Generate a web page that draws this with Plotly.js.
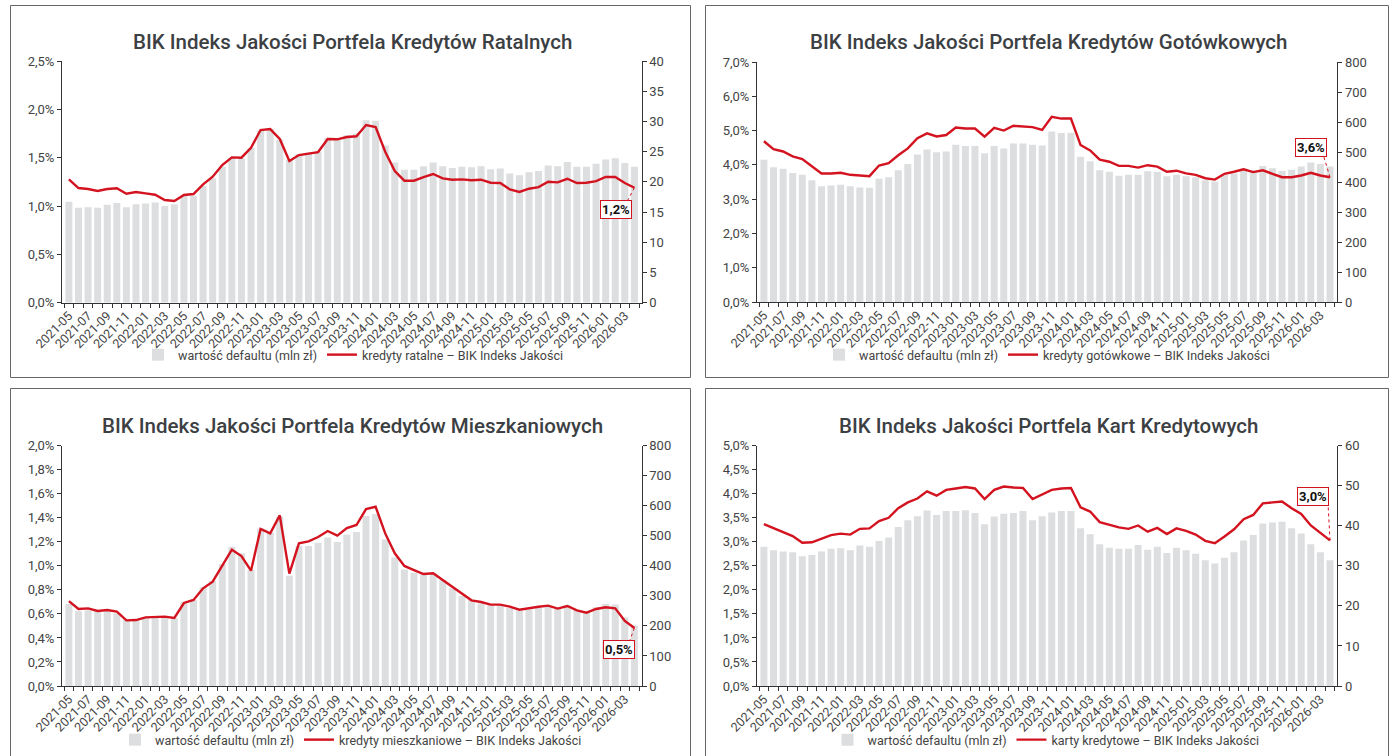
<!DOCTYPE html>
<html>
<head>
<meta charset="utf-8">
<script src="https://cdn.plot.ly/plotly-3.0.1.min.js"></script>
<style>
html,body{margin:0;padding:0;background:#fff;}
#chart{width:1389px;height:756px;}
</style>
</head>
<body>
<div id="chart"></div>
<script>
const months = ["2021-05","2021-06","2021-07","2021-08","2021-09","2021-10","2021-11","2021-12",
"2022-01","2022-02","2022-03","2022-04","2022-05","2022-06","2022-07","2022-08","2022-09","2022-10","2022-11","2022-12",
"2023-01","2023-02","2023-03","2023-04","2023-05","2023-06","2023-07","2023-08","2023-09","2023-10","2023-11","2023-12",
"2024-01","2024-02","2024-03","2024-04","2024-05","2024-06","2024-07","2024-08","2024-09","2024-10","2024-11","2024-12",
"2025-01","2025-02","2025-03","2025-04","2025-05","2025-06","2025-07","2025-08","2025-09","2025-10","2025-11","2025-12",
"2026-01","2026-02","2026-03","2026-04"];
// tick labels: every second month
const tickLabels = months.map((m,i)=> i%2===0 ? m : "");

// Kredyty ratalne
const ratalneIndex = [1.276,1.186,1.176,1.155,1.176,1.183,1.127,1.145,1.131,1.117,1.062,1.052,1.114,1.124,1.224,1.303,1.424,1.503,1.500,1.603,1.786,1.796,1.693,1.465,1.527,1.545,1.558,1.693,1.690,1.714,1.721,1.838,1.817,1.562,1.362,1.262,1.262,1.300,1.331,1.286,1.272,1.276,1.266,1.272,1.241,1.238,1.172,1.145,1.179,1.196,1.251,1.245,1.282,1.238,1.241,1.258,1.300,1.300,1.238,1.189];
const ratalneDefault = [16.7,15.7,15.8,15.7,16.2,16.5,15.8,16.3,16.4,16.6,16.0,16.3,17.7,17.7,19.3,20.6,22.5,23.9,23.9,25.6,28.5,28.8,27.0,23.6,24.6,24.8,25.0,27.3,27.0,27.7,28.0,30.2,30.1,26.0,23.2,22.0,22.0,22.6,23.2,22.6,22.3,22.5,22.4,22.6,22.1,22.2,21.4,21.1,21.6,21.8,22.7,22.6,23.3,22.5,22.5,23.0,23.7,23.9,23.1,22.5];

// Kredyty gotówkowe
const gotowkoweIndex = [4.69,4.46,4.39,4.25,4.17,3.96,3.75,3.75,3.77,3.71,3.68,3.67,3.98,4.05,4.28,4.48,4.78,4.92,4.83,4.87,5.09,5.06,5.06,4.82,5.08,5.00,5.14,5.13,5.10,5.02,5.40,5.35,5.35,4.58,4.42,4.15,4.09,3.97,3.97,3.92,3.99,3.95,3.80,3.83,3.75,3.71,3.61,3.57,3.74,3.80,3.87,3.79,3.84,3.74,3.64,3.64,3.69,3.77,3.69,3.64];
const gotowkoweDefault = [474,449,444,430,424,406,386,388,391,386,382,381,411,416,439,460,492,508,499,502,524,520,520,496,520,512,528,528,524,522,568,563,564,484,469,439,434,421,424,424,436,434,419,424,419,416,406,402,424,428,445,439,453,446,437,441,452,465,460,452];

// Kredyty mieszkaniowe
const mieszkanioweIndex = [0.707,0.641,0.646,0.624,0.632,0.619,0.546,0.549,0.571,0.577,0.577,0.566,0.691,0.716,0.813,0.868,0.999,1.135,1.082,0.960,1.307,1.270,1.420,0.935,1.187,1.204,1.240,1.290,1.251,1.315,1.340,1.473,1.492,1.270,1.104,0.999,0.965,0.932,0.938,0.882,0.827,0.771,0.713,0.699,0.677,0.677,0.660,0.635,0.649,0.660,0.669,0.644,0.666,0.630,0.610,0.641,0.655,0.646,0.541,0.483];
const mieszkanioweDefault = [273,249,252,249,249,242,219,220,229,231,231,226,280,286,329,350,406,464,442,386,524,511,564,367,466,466,477,494,479,504,513,566,573,488,428,388,377,373,377,353,325,300,286,275,269,269,260,251,255,260,264,257,270,253,246,262,273,271,229,201];

// Karty kredytowe
const kartyIndex = [3.37,3.28,3.20,3.12,2.98,2.99,3.07,3.14,3.17,3.15,3.27,3.28,3.43,3.50,3.70,3.82,3.90,4.05,3.96,4.08,4.11,4.14,4.11,3.89,4.08,4.15,4.13,4.12,3.89,3.98,4.08,4.11,4.12,3.72,3.63,3.41,3.35,3.30,3.27,3.34,3.21,3.29,3.16,3.28,3.23,3.15,3.02,2.97,3.11,3.26,3.47,3.56,3.80,3.82,3.84,3.70,3.58,3.34,3.18,3.03];
const kartyDefault = [34.8,33.9,33.6,33.4,32.4,32.7,33.6,34.3,34.4,33.9,35.1,34.8,36.2,37.1,39.7,41.4,42.4,43.8,42.7,43.7,43.7,43.9,43.2,40.4,42.3,43.0,43.2,43.7,41.4,42.4,43.3,43.7,43.7,39.4,37.9,35.4,34.5,34.3,34.3,35.2,34.0,34.8,33.2,34.5,33.9,33.0,31.4,30.6,32.0,33.4,36.3,37.7,40.6,40.8,41.0,39.4,38.1,35.4,33.4,31.4];

const titles = ["BIK Indeks Jakości Portfela Kredytów Ratalnych","BIK Indeks Jakości Portfela Kredytów Gotówkowych",
"BIK Indeks Jakości Portfela Kredytów Mieszkaniowych","BIK Indeks Jakości Portfela Kart Kredytowych"];
const barName = "wartość defaultu (mln zł)";
const lineNames = ["kredyty ratalne – BIK Indeks Jakości","kredyty gotówkowe – BIK Indeks Jakości",
"kredyty mieszkaniowe – BIK Indeks Jakości","karty kredytowe – BIK Indeks Jakości"];
const lastLabels = ["1,2%","3,6%","0,5%","3,0%"];

const W = 1389, H = 756;
const FONT = "Roboto, 'DejaVu Sans', sans-serif";
const RED = "#d3131f";
const GREY = "#dcdedf";
const TXT = "#444444";

const panels = [
  {idx: ratalneIndex, def: ratalneDefault, x:[62,641.7], y:[61,302.7], lr:[0,2.5], ld:0.5, rr:[0,40], rd:5,
   frame:[10.5,5.5,690.5,377.5], title:[353,42], legend:[353,355], lab:{xs:-18,ys:-21.5,lx:-8,ly:-15}},
  {idx: gotowkoweIndex, def: gotowkoweDefault, x:[757,1337.3], y:[62,302], lr:[0,7], ld:1, rr:[0,800], rd:100,
   frame:[705.5,5.5,1388.5,377.5], title:[1048,42], legend:[1047,355], lab:{xs:-19,ys:30,lx:-7,ly:23}},
  {idx: mieszkanioweIndex, def: mieszkanioweDefault, x:[62,641.7], y:[445.7,686], lr:[0,2], ld:0.2, rr:[0,800], rd:100,
   frame:[10.5,388.5,690.5,770], title:[353,426], legend:[351,740], lab:{xs:-15,ys:-22,lx:-6,ly:-16}},
  {idx: kartyIndex, def: kartyDefault, x:[757,1337.3], y:[445.7,686], lr:[0,5], ld:0.5, rr:[0,60], rd:10,
   frame:[705.5,388.5,1388.5,770], title:[1048,426], legend:[1046,740], lab:{xs:-17,ys:44,lx:-2,ly:37}}
];

const data = [];
const layout = {
  width: W, height: H, margin:{l:0,r:0,t:0,b:0}, paper_bgcolor:"#fff", plot_bgcolor:"rgba(0,0,0,0)",
  showlegend: true, separators: ", ", bargap: 0.27, hovermode: false,
  font:{family: FONT, color: TXT, size: 12},
  annotations: [], shapes: []
};

panels.forEach((p, k) => {
  const n = k + 1;
  const xName = n === 1 ? "x" : "x" + n;
  const yB = 2*n - 1, yL = 2*n;
  const yBName = yB === 1 ? "y" : "y" + yB;
  const yLName = "y" + yL;
  const legName = n === 1 ? "legend" : "legend" + n;
  data.push({type:"bar", x: months, y: p.def, name: barName, xaxis: xName, yaxis: yBName,
    marker:{color: GREY, line:{width:0}}, legend: legName});
  data.push({type:"scatter", mode:"lines", x: months, y: p.idx, name: lineNames[k], xaxis: xName, yaxis: yLName,
    line:{color: RED, width: 2.4}, legend: legName});

  const xd = [p.x[0]/W, p.x[1]/W];
  const yd = [1 - p.y[1]/H, 1 - p.y[0]/H];
  layout["xaxis" + (n===1?"":n)] = {
    domain: xd, anchor: yBName, type:"category", range:[-0.72, 59.76],
    tickmode:"array", tickvals: months, ticktext: tickLabels, tickson:"boundaries",
    ticks:"outside", ticklen:4, tickwidth:1, tickcolor:"#333", tickangle:-45,
    showline:true, linecolor:"#333", linewidth:1, showgrid:false, zeroline:false,
    tickfont:{family: FONT, size: 12.5, color: TXT}, fixedrange:true
  };
  layout["yaxis" + (yB===1?"":yB)] = {
    domain: yd, anchor: xName, side:"right", range: p.rr, dtick: p.rd, tick0: 0,
    ticks:"outside", ticklen:4, tickcolor:"#333", showline:true, linecolor:"#333", linewidth:1,
    showgrid:false, zeroline:false, tickfont:{family: FONT, size: 13, color: TXT}, fixedrange:true
  };
  layout["yaxis" + yL] = {
    overlaying: yBName, anchor: xName, side:"left", range: p.lr, dtick: p.ld, tick0: 0,
    tickformat:".1f", ticksuffix:"%",
    ticks:"outside", ticklen:4, tickcolor:"#333", showline:true, linecolor:"#333", linewidth:1,
    showgrid:false, zeroline:false, tickfont:{family: FONT, size: 13, color: TXT}, fixedrange:true
  };
  layout[legName] = {
    orientation:"h", x: p.legend[0]/W, xanchor:"center", y: 1 - p.legend[1]/H, yanchor:"middle",
    font:{family: FONT, size: 12.5, color: TXT}, bgcolor:"rgba(0,0,0,0)", itemwidth: 30, traceorder:"normal"
  };
  // title
  layout.annotations.push({xref:"paper", yref:"paper", x: p.title[0]/W, y: 1 - p.title[1]/H,
    xanchor:"center", yanchor:"middle", showarrow:false, text: titles[k],
    font:{family: FONT, size: 20.5, color:"#3c4043", weight: 500}});
  // last value label
  const last = months.length - 1;
  layout.annotations.push({xref: xName, yref: yLName, x: months[last], y: p.idx[last],
    showarrow:false, xshift: p.lab.xs, yshift: p.lab.ys, text: "<b>" + lastLabels[k] + "</b>",
    font:{family: FONT, size: 13, color:"#111"}, bgcolor:"#fff", bordercolor: RED, borderwidth:1, borderpad:1});
  layout.shapes.push({type:"line", xref: xName, yref: yLName, xsizemode:"pixel", ysizemode:"pixel",
    xanchor: months[last], yanchor: p.idx[last], x0:0, y0:0, x1:p.lab.lx, y1:p.lab.ly,
    line:{color: RED, width:1, dash:"dot"}});
  // frame
  layout.shapes.push({type:"rect", xref:"paper", yref:"paper",
    x0: p.frame[0]/W, x1: p.frame[2]/W, y0: 1 - p.frame[3]/H, y1: 1 - p.frame[1]/H,
    line:{color:"#666", width:1}, fillcolor:"rgba(0,0,0,0)", layer:"below"});
});

Plotly.newPlot("chart", data, layout, {displayModeBar:false, staticPlot:true});
</script>
</body>
</html>
